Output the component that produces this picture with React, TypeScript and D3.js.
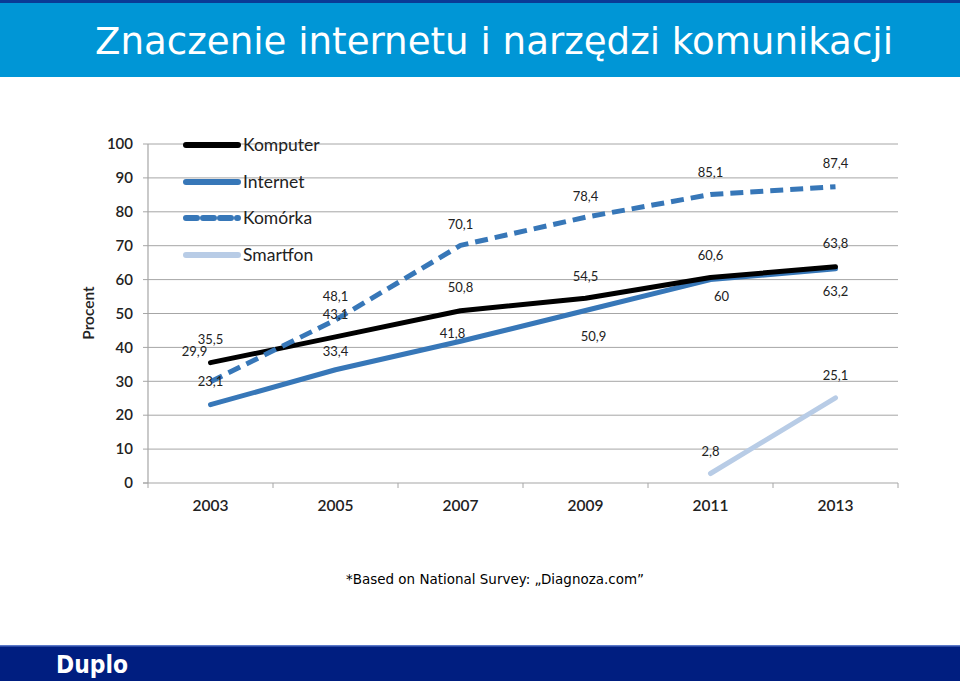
import React, { useEffect } from "react";
import * as d3 from "d3";

const years = ["2003", "2005", "2007", "2009", "2011", "2013"];
const komputer = [35.5, 43.1, 50.8, 54.5, 60.6, 63.8];
const internet = [23.1, 33.4, 41.8, 50.9, 60, 63.2];
const komorka = [29.9, 48.1, 70.1, 78.4, 85.1, 87.4];
const smartfon: (number | null)[] = [null, null, null, null, 2.8, 25.1];
const yTicks = [0, 10, 20, 30, 40, 50, 60, 70, 80, 90, 100];

// label offsets (dx, dy) from point, in px
const komputerOff = [[0, -23], [0, -22], [0, -23], [0, -22], [0, -22], [0, -23]];
const internetOff = [[0, -23], [0, -18], [-8, -8], [8, 26], [11, 17], [0, 23]];
const komorkaOff = [[-16, -30], [0, -23], [0, -21], [0, -21], [0, -22], [0, -23]];
const smartfonOff = [[0, 0], [0, 0], [0, 0], [0, 0], [0, -22], [0, -22]];

const W = 960;
const H = 681;
const CF = "Lato, 'Open Sans', sans-serif";

export default function App() {
  useEffect(() => {
    document.body.style.margin = "0";
  }, []);

  const x = d3.scaleBand().domain(years).range([148, 898]);
  const y = d3.scaleLinear().domain([0, 100]).range([483, 144]);
  const cx = (yr: string) => (x(yr) as number) + x.bandwidth() / 2;

  const line = d3
    .line<number | null>()
    .defined((d) => d != null)
    .x((_, i) => cx(years[i]))
    .y((d) => y(d as number))
    .curve(d3.curveLinear);

  const series = [
    { name: "Komputer", data: komputer as (number | null)[], color: "#000000", dash: "", width: 5, off: komputerOff },
    { name: "Internet", data: internet as (number | null)[], color: "#3777B8", dash: "", width: 5, off: internetOff },
    { name: "Komórka", data: komorka as (number | null)[], color: "#3777B8", dash: "13 7", width: 5, off: komorkaOff },
    { name: "Smartfon", data: smartfon, color: "#B8CCE6", dash: "", width: 5, off: smartfonOff },
  ];
  const drawOrder = [3, 1, 0, 2];
  const fmt = (v: number) => String(v).replace(".", ",");

  return (
    <svg width={W} height={H} style={{ display: "block" }}>
      <rect x={0} y={0} width={W} height={H} fill="#ffffff" />
      {/* top banner */}
      <rect x={0} y={0} width={W} height={77} fill="#0096D6" />
      <rect x={0} y={0} width={W} height={3} fill="#0A3A96" />
      <text
        x={95}
        y={54}
        fill="#ffffff"
        fontFamily="'DejaVu Sans Condensed', 'DejaVu Sans', sans-serif"
        fontSize={38}
        textLength={798}
        lengthAdjust="spacingAndGlyphs"
      >
        Znaczenie internetu i narzędzi komunikacji
      </text>

      {/* gridlines */}
      {yTicks.map((t) => (
        <g key={t}>
          {t > 0 && <line x1={148} x2={898} y1={y(t)} y2={y(t)} stroke="#A6A6A6" strokeWidth={1} />}
          <line x1={143} x2={148} y1={y(t)} y2={y(t)} stroke="#A6A6A6" strokeWidth={1} />
          <text x={133} y={y(t)} dy="0.35em" textAnchor="end" fontFamily={CF} fontSize={15} fontWeight={600} fill="#222">
            {t}
          </text>
        </g>
      ))}
      <line x1={148} x2={148} y1={144} y2={483} stroke="#A6A6A6" strokeWidth={1.2} />
      <line x1={143} x2={898} y1={483} y2={483} stroke="#A6A6A6" strokeWidth={1.2} />
      {[...years.map((yr) => x(yr) as number), 898].map((xx, i) => (
        <line key={i} x1={xx} x2={xx} y1={483} y2={488} stroke="#A6A6A6" strokeWidth={1} />
      ))}
      {years.map((yr) => (
        <text key={yr} x={cx(yr)} y={511} textAnchor="middle" fontFamily={CF} fontSize={15.5} fontWeight={600} fill="#222">
          {yr}
        </text>
      ))}
      <text
        transform="translate(94,313) rotate(-90)"
        textAnchor="middle"
        fontFamily={CF}
        fontSize={15.5}
        fontWeight={600}
        fill="#222"
      >
        Procent
      </text>

      {/* lines */}
      {drawOrder.map((si) => {
        const s = series[si];
        return (
          <path
            key={s.name}
            d={line(s.data) || ""}
            fill="none"
            stroke={s.color}
            strokeWidth={s.width}
            strokeDasharray={s.dash || undefined}
            strokeLinecap={s.dash ? "butt" : "round"}
            strokeLinejoin="round"
          />
        );
      })}

      {/* data labels */}
      {series.map((s) =>
        s.data.map((v, i) =>
          v == null ? null : (
            <text
              key={s.name + i}
              x={cx(years[i]) + s.off[i][0]}
              y={y(v) + s.off[i][1]}
              dy="0.35em"
              textAnchor="middle"
              fontFamily={CF}
              fontSize={13}
              fill="#222"
            >
              {fmt(v)}
            </text>
          )
        )
      )}

      {/* legend */}
      {series.map((s, i) => {
        const ly = [145, 182, 218, 255][i];
        return (
          <g key={s.name}>
            <line
              x1={186}
              x2={238}
              y1={ly}
              y2={ly}
              stroke={s.color}
              strokeWidth={6}
              strokeDasharray={s.dash ? "11 6" : undefined}
              strokeLinecap="round"
            />
            <text x={243} y={ly} dy="0.35em" fontFamily={CF} fontSize={17.5} fill="#222">
              {s.name}
            </text>
          </g>
        );
      })}

      {/* footnote */}
      <text x={495} y={584} textAnchor="middle" fontFamily="'DejaVu Sans', Verdana, sans-serif" fontSize={13.5} fill="#000" textLength={298} lengthAdjust="spacingAndGlyphs">
        *Based on National Survey: „Diagnoza.com”
      </text>

      {/* bottom bar */}
      <rect x={0} y={645} width={W} height={36} fill="#001E80" />
      <rect x={0} y={645} width={W} height={1.5} fill="#5A78C8" />
      <text x={56} y={673} fill="#fff" fontFamily="'DejaVu Sans Condensed', 'DejaVu Sans', sans-serif" fontWeight="bold" fontSize={25} textLength={72} lengthAdjust="spacingAndGlyphs">
        Duplo
      </text>
    </svg>
  );
}
